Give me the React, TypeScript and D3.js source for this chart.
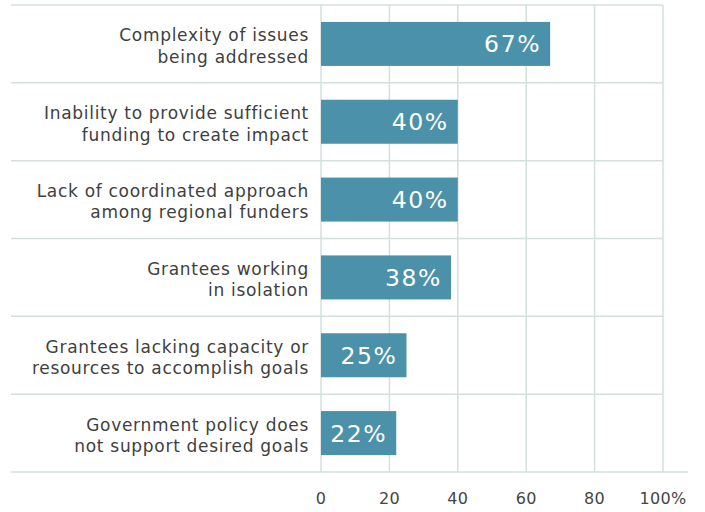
import React from "react";
import * as d3 from "d3";

const categories: string[][] = [
  ["Complexity of issues", "being addressed"],
  ["Inability to provide sufficient", "funding to create impact"],
  ["Lack of coordinated approach", "among regional funders"],
  ["Grantees working", "in isolation"],
  ["Grantees lacking capacity or", "resources to accomplish goals"],
  ["Government policy does", "not support desired goals"],
];
const values: number[] = [67, 40, 40, 38, 25, 22];
const ticks: number[] = [0, 20, 40, 60, 80, 100];
const tickLabels: string[] = ["0", "20", "40", "60", "80", "100%"];

const W = 705;
const H = 512;
const FONT = "'DejaVu Sans', sans-serif";
const GRID = "#d3e0de";
const BAR = "#4a91a9";

export default function App() {
  const x = d3.scaleLinear().domain([0, 100]).range([321, 663]);
  const y = d3
    .scaleBand<number>()
    .domain(d3.range(categories.length))
    .range([5, 472])
    .paddingInner(0)
    .paddingOuter(0);
  const bandH = y.bandwidth();
  const barH = 44;

  return (
    <svg
      width={W}
      height={H}
      style={{ position: "absolute", left: 0, top: 0, background: "#fff" }}
      fontFamily={FONT}
    >
      {ticks.map((t) => (
        <line
          key={"v" + t}
          x1={x(t)}
          x2={x(t)}
          y1={5}
          y2={472}
          stroke={GRID}
          strokeWidth={1.5}
        />
      ))}
      {d3.range(categories.length).map((i) => (
        <line
          key={"h" + i}
          x1={11}
          x2={663}
          y1={y(i)!}
          y2={y(i)!}
          stroke={GRID}
          strokeWidth={1.5}
        />
      ))}
      <line x1={11} x2={688} y1={472} y2={472} stroke={GRID} strokeWidth={1.5} />
      {values.map((v, i) => {
        const cy = y(i)! + bandH / 2;
        return (
          <g key={"b" + i}>
            <rect
              x={x(0)}
              y={cy - barH / 2}
              width={x(v) - x(0)}
              height={barH}
              fill={BAR}
            />
            <text
              x={x(v) - 9}
              y={cy + 8.5}
              textAnchor="end"
              fill="#fff"
              fontSize={23.5}
              letterSpacing={1.6}
            >
              {v}%
            </text>
            <text
              x={309}
              y={cy - 2.5}
              textAnchor="end"
              fill="#404040"
              fontSize={17}
              letterSpacing={0.7}
            >
              {categories[i][0]}
            </text>
            <text
              x={309}
              y={cy + 18.8}
              textAnchor="end"
              fill="#404040"
              fontSize={17}
              letterSpacing={0.7}
            >
              {categories[i][1]}
            </text>
          </g>
        );
      })}
      {ticks.map((t, i) => (
        <text
          key={"t" + t}
          x={x(t)}
          y={504}
          textAnchor="middle"
          fill="#454545"
          fontSize={16}
          letterSpacing={0.3}
        >
          {tickLabels[i]}
        </text>
      ))}
    </svg>
  );
}
